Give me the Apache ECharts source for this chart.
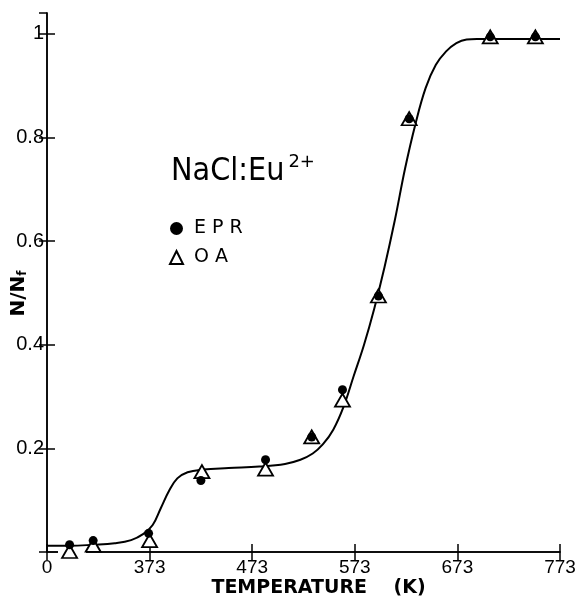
<!DOCTYPE html>
<html>
<head>
<meta charset="utf-8">
<title>NaCl:Eu2+ N/Nf vs temperature</title>
<script src="https://cdn.jsdelivr.net/npm/echarts@6/dist/echarts.min.js"></script>
<style>
  html, body { margin: 0; padding: 0; background: #fff; }
  #chart { width: 582px; height: 601px; }
</style>
</head>
<body>
<div id="chart"></div>
<script>
// axis starts at 273 K (labelled "0"), values are kept in kelvin
const tempOrigin = 273;
const xTickLabels = ['0', '373', '473', '573', '673', '773'];

// fitted curve
const curveK = [273, 295, 318, 339, 355, 367, 376, 384, 392, 400, 410, 425, 450, 480, 505, 520, 532, 542, 552, 562, 572, 582, 592, 602, 612, 622, 632, 642, 652, 662, 672, 682, 692, 773];
const curveV = [0.012, 0.012, 0.014, 0.017, 0.023, 0.035, 0.052, 0.085, 0.118, 0.142, 0.154, 0.159, 0.162, 0.165, 0.170, 0.178, 0.190, 0.208, 0.236, 0.280, 0.340, 0.400, 0.470, 0.550, 0.640, 0.740, 0.825, 0.895, 0.940, 0.966, 0.982, 0.989, 0.990, 0.990];

// EPR (filled circles)
const eprK = [295, 318, 372, 423, 486, 531, 561, 596, 626, 705, 749];
const eprV = [0.014, 0.022, 0.036, 0.138, 0.178, 0.222, 0.313, 0.494, 0.836, 0.994, 0.994];

// OA (open triangles)
const oaK = [295, 318, 373, 424, 486, 531, 561, 596, 626, 705, 749];
const oaV = [0.001, 0.013, 0.022, 0.155, 0.160, 0.222, 0.293, 0.494, 0.836, 0.994, 0.994];

const toPairs = (ks, vs) => ks.map((k, i) => [k - tempOrigin, vs[i]]);

const ink = '#000';
const chart = echarts.init(document.getElementById('chart'));

const axisLine = { lineStyle: { color: ink, width: 1.5 } };
const axisTick = { inside: true, length: 8, lineStyle: { color: ink, width: 1.5 } };

const option = {
  backgroundColor: '#fff',
  animation: false,
  title: {
    text: '{m|NaCl:Eu}{s|2+}',
    left: 166,
    top: 148,
    textStyle: {
      rich: {
        m: { fontSize: 32, fontWeight: 'normal', fontFamily: 'DejaVu Sans Condensed', color: ink, lineHeight: 38 },
        s: { fontSize: 18, fontWeight: 'normal', fontFamily: 'DejaVu Sans', color: ink, verticalAlign: 'top', padding: [0, 0, 0, 4] }
      }
    }
  },
  legend: {
    data: ['EPR', 'OA'],
    orient: 'vertical',
    left: 164,
    top: 214,
    itemWidth: 13,
    itemHeight: 13,
    itemGap: 10,
    formatter: (n) => n.split('').join(' '),
    textStyle: { fontSize: 19, color: ink, fontFamily: 'DejaVu Sans', padding: [0, 0, 0, 6] }
  },
  grid: { left: 47, right: 22, top: 13, bottom: 49, containLabel: false, outerBoundsMode: 'none' },
  xAxis: [
    {
      type: 'value',
      min: 0,
      max: 500,
      interval: 100,
      position: 'bottom',
      axisLine,
      axisTick,
      splitLine: { show: false },
      axisLabel: {
        formatter: (v) => xTickLabels[Math.round(v / 100)],
        color: ink,
        fontSize: 19,
        fontFamily: 'Liberation Sans',
        margin: 6
      },
      name: 'TEMPERATURE    (K)',
      nameLocation: 'middle',
      nameGap: 27,
      nameMoveOverlap: false,
      nameTextStyle: {
        fontSize: 19,
        fontWeight: 'bold',
        fontFamily: 'DejaVu Sans',
        color: ink,
        padding: [0, 0, 0, 30]
      }
    },
    {
      type: 'value',
      min: 0,
      max: 500,
      interval: 100,
      position: 'top',
      axisLine,
      axisTick,
      axisLabel: { show: false },
      splitLine: { show: false }
    }
  ],
  yAxis: [
    {
      type: 'value',
      min: 0,
      max: 1.04,
      interval: 0.2,
      position: 'left',
      axisLine,
      axisTick,
      splitLine: { show: false },
      axisLabel: {
        showMinLabel: false,
        showMaxLabel: false,
        formatter: (v) => (Math.abs(v - 1) < 1e-6 ? '1' : v.toFixed(1)),
        color: ink,
        fontSize: 20,
        fontFamily: 'Liberation Sans',
        margin: 3
      },
      name: 'N/N{s|f}',
      nameLocation: 'middle',
      nameGap: 18,
      nameMoveOverlap: false,
      nameTextStyle: {
        fontSize: 20,
        fontWeight: 'bold',
        fontFamily: 'DejaVu Sans',
        color: ink,
        padding: [0, 0, 0, -22],
        rich: {
          s: { fontSize: 12, fontWeight: 'bold', fontFamily: 'DejaVu Sans', color: ink, verticalAlign: 'bottom' }
        }
      }
    },
    {
      type: 'value',
      min: 0,
      max: 1.04,
      interval: 0.2,
      position: 'right',
      axisLine,
      axisTick,
      axisLabel: { show: false },
      splitLine: { show: false }
    }
  ],
  // break in the bottom axis next to the origin
  graphic: [
    {
      type: 'rect',
      z: 1,
      shape: { x: 58, y: 549, width: 28, height: 7 },
      style: { fill: '#fff' }
    }
  ],
  series: [
    {
      name: 'fit',
      type: 'line',
      data: toPairs(curveK, curveV),
      smooth: 0.4,
      symbol: 'none',
      lineStyle: { color: ink, width: 2 },
      z: 2
    },
    {
      name: 'OA',
      type: 'scatter',
      data: toPairs(oaK, oaV),
      symbol: 'triangle',
      symbolSize: [15, 13],
      itemStyle: { color: '#fff', borderColor: ink, borderWidth: 1.8, opacity: 1 },
      z: 3
    },
    {
      name: 'EPR',
      type: 'scatter',
      data: toPairs(eprK, eprV),
      symbol: 'circle',
      symbolSize: 9,
      itemStyle: { color: ink, opacity: 1 },
      z: 4
    }
  ]
};

chart.setOption(option);
</script>
</body>
</html>
